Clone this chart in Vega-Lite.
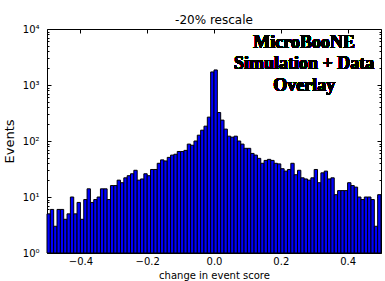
{
  "$schema": "https://vega.github.io/schema/vega-lite/v6.json",
  "autosize": {"type": "none"},
  "padding": {"left": 47, "top": 29, "right": 4, "bottom": 28},
  "width": 334,
  "height": 224,
  "title": {"text": "-20% rescale", "font": "DejaVu Sans", "fontSize": 12, "fontWeight": "normal", "color": "black", "offset": -3, "anchor": "middle"},
  "data": {"values": [
    {"lo": -0.50, "hi": -0.49, "n": 5},
    {"lo": -0.49, "hi": -0.48, "n": 6},
    {"lo": -0.48, "hi": -0.47, "n": 3},
    {"lo": -0.47, "hi": -0.46, "n": 6},
    {"lo": -0.46, "hi": -0.45, "n": 6},
    {"lo": -0.45, "hi": -0.44, "n": 4},
    {"lo": -0.44, "hi": -0.43, "n": 5},
    {"lo": -0.43, "hi": -0.42, "n": 10},
    {"lo": -0.42, "hi": -0.41, "n": 5},
    {"lo": -0.41, "hi": -0.40, "n": 8},
    {"lo": -0.40, "hi": -0.39, "n": 4},
    {"lo": -0.39, "hi": -0.38, "n": 9},
    {"lo": -0.38, "hi": -0.37, "n": 14},
    {"lo": -0.37, "hi": -0.36, "n": 8},
    {"lo": -0.36, "hi": -0.35, "n": 9},
    {"lo": -0.35, "hi": -0.34, "n": 10},
    {"lo": -0.34, "hi": -0.33, "n": 14},
    {"lo": -0.33, "hi": -0.32, "n": 14},
    {"lo": -0.32, "hi": -0.31, "n": 9},
    {"lo": -0.31, "hi": -0.30, "n": 16},
    {"lo": -0.30, "hi": -0.29, "n": 16},
    {"lo": -0.29, "hi": -0.28, "n": 20},
    {"lo": -0.28, "hi": -0.27, "n": 18},
    {"lo": -0.27, "hi": -0.26, "n": 22},
    {"lo": -0.26, "hi": -0.25, "n": 24},
    {"lo": -0.25, "hi": -0.24, "n": 26},
    {"lo": -0.24, "hi": -0.23, "n": 30},
    {"lo": -0.23, "hi": -0.22, "n": 20},
    {"lo": -0.22, "hi": -0.21, "n": 21},
    {"lo": -0.21, "hi": -0.20, "n": 26},
    {"lo": -0.20, "hi": -0.19, "n": 24},
    {"lo": -0.19, "hi": -0.18, "n": 31},
    {"lo": -0.18, "hi": -0.17, "n": 31},
    {"lo": -0.17, "hi": -0.16, "n": 40},
    {"lo": -0.16, "hi": -0.15, "n": 46},
    {"lo": -0.15, "hi": -0.14, "n": 44},
    {"lo": -0.14, "hi": -0.13, "n": 51},
    {"lo": -0.13, "hi": -0.12, "n": 56},
    {"lo": -0.12, "hi": -0.11, "n": 58},
    {"lo": -0.11, "hi": -0.10, "n": 65},
    {"lo": -0.10, "hi": -0.09, "n": 65},
    {"lo": -0.09, "hi": -0.08, "n": 68},
    {"lo": -0.08, "hi": -0.07, "n": 88},
    {"lo": -0.07, "hi": -0.06, "n": 84},
    {"lo": -0.06, "hi": -0.05, "n": 100},
    {"lo": -0.05, "hi": -0.04, "n": 127},
    {"lo": -0.04, "hi": -0.03, "n": 156},
    {"lo": -0.03, "hi": -0.02, "n": 184},
    {"lo": -0.02, "hi": -0.01, "n": 267},
    {"lo": -0.01, "hi": 0.00, "n": 1710},
    {"lo": 0.00, "hi": 0.01, "n": 1857},
    {"lo": 0.01, "hi": 0.02, "n": 323},
    {"lo": 0.02, "hi": 0.03, "n": 236},
    {"lo": 0.03, "hi": 0.04, "n": 163},
    {"lo": 0.04, "hi": 0.05, "n": 122},
    {"lo": 0.05, "hi": 0.06, "n": 117},
    {"lo": 0.06, "hi": 0.07, "n": 122},
    {"lo": 0.07, "hi": 0.08, "n": 100},
    {"lo": 0.08, "hi": 0.09, "n": 88},
    {"lo": 0.09, "hi": 0.10, "n": 74},
    {"lo": 0.10, "hi": 0.11, "n": 74},
    {"lo": 0.11, "hi": 0.12, "n": 60},
    {"lo": 0.12, "hi": 0.13, "n": 56},
    {"lo": 0.13, "hi": 0.14, "n": 49},
    {"lo": 0.14, "hi": 0.15, "n": 40},
    {"lo": 0.15, "hi": 0.16, "n": 45},
    {"lo": 0.16, "hi": 0.17, "n": 47},
    {"lo": 0.17, "hi": 0.18, "n": 45},
    {"lo": 0.18, "hi": 0.19, "n": 40},
    {"lo": 0.19, "hi": 0.20, "n": 39},
    {"lo": 0.20, "hi": 0.21, "n": 32},
    {"lo": 0.21, "hi": 0.22, "n": 29},
    {"lo": 0.22, "hi": 0.23, "n": 31},
    {"lo": 0.23, "hi": 0.24, "n": 40},
    {"lo": 0.24, "hi": 0.25, "n": 25},
    {"lo": 0.25, "hi": 0.26, "n": 30},
    {"lo": 0.26, "hi": 0.27, "n": 22},
    {"lo": 0.27, "hi": 0.28, "n": 21},
    {"lo": 0.28, "hi": 0.29, "n": 20},
    {"lo": 0.29, "hi": 0.30, "n": 22},
    {"lo": 0.30, "hi": 0.31, "n": 31},
    {"lo": 0.31, "hi": 0.32, "n": 18},
    {"lo": 0.32, "hi": 0.33, "n": 27},
    {"lo": 0.33, "hi": 0.34, "n": 29},
    {"lo": 0.34, "hi": 0.35, "n": 21},
    {"lo": 0.35, "hi": 0.36, "n": 22},
    {"lo": 0.36, "hi": 0.37, "n": 11},
    {"lo": 0.37, "hi": 0.38, "n": 13},
    {"lo": 0.38, "hi": 0.39, "n": 13},
    {"lo": 0.39, "hi": 0.40, "n": 13},
    {"lo": 0.40, "hi": 0.41, "n": 18},
    {"lo": 0.41, "hi": 0.42, "n": 16},
    {"lo": 0.42, "hi": 0.43, "n": 15},
    {"lo": 0.43, "hi": 0.44, "n": 10},
    {"lo": 0.44, "hi": 0.45, "n": 9},
    {"lo": 0.45, "hi": 0.46, "n": 10},
    {"lo": 0.46, "hi": 0.47, "n": 10},
    {"lo": 0.47, "hi": 0.48, "n": 9},
    {"lo": 0.48, "hi": 0.49, "n": 3},
    {"lo": 0.49, "hi": 0.50, "n": 11}
  ]},
  "layer": [
    {
      "mark": {"type": "bar", "fill": "#0000ff", "stroke": "black", "strokeWidth": 1},
      "encoding": {
        "x": {"field": "lo", "type": "quantitative",
          "scale": {"domain": [-0.5, 0.5], "nice": false, "zero": false},
          "axis": {"orient": "bottom", "title": "change in event score", "values": [-0.4, -0.2, 0, 0.2, 0.4],
            "labelExpr": "replace(format(datum.value, '.1f'), '-', '\u2212')",
            "tickSize": -4, "labelPadding": 7, "titlePadding": 4, "grid": false, "labelFlush": false}},
        "x2": {"field": "hi"},
        "y": {"field": "n", "type": "quantitative",
          "scale": {"type": "log", "domain": [1, 10000], "nice": false},
          "axis": {"orient": "left", "title": "Events", "titleFontSize": 13, "titlePadding": 6,
            "values": [1,2,3,4,5,6,7,8,9,10,20,30,40,50,60,70,80,90,100,200,300,400,500,600,700,800,900,1000,2000,3000,4000,5000,6000,7000,8000,9000,10000],
            "labelExpr": "datum.value == 1 ? '10\u2070' : datum.value == 10 ? '10\u00b9' : datum.value == 100 ? '10\u00b2' : datum.value == 1000 ? '10\u00b3' : datum.value == 10000 ? '10\u2074' : ''",
            "tickSize": {"condition": {"test": "indexof([1,10,100,1000,10000], datum.value) >= 0", "value": -4}, "value": -2},
            "labelPadding": 12, "grid": false, "labelFlush": false}},
        "y2": {"datum": 1}
      }
    },
    {
      "mark": {"type": "bar", "opacity": 0},
      "encoding": {
        "x": {"field": "lo", "type": "quantitative",
          "axis": {"orient": "top", "title": null, "labels": false, "values": [-0.4, -0.2, 0, 0.2, 0.4], "tickSize": -4, "grid": false}},
        "x2": {"field": "hi"},
        "y": {"field": "n", "type": "quantitative",
          "axis": {"orient": "right", "title": null, "labels": false,
            "values": [1,2,3,4,5,6,7,8,9,10,20,30,40,50,60,70,80,90,100,200,300,400,500,600,700,800,900,1000,2000,3000,4000,5000,6000,7000,8000,9000,10000],
            "tickSize": {"condition": {"test": "indexof([1,10,100,1000,10000], datum.value) >= 0", "value": -4}, "value": -2},
            "grid": false}},
        "y2": {"datum": 1}
      }
    },
    {
      "mark": {"type": "text", "text": ["MicroBooNE", "Simulation + Data", "Overlay"], "font": "Liberation Serif", "fontWeight": "bold", "fontSize": 18, "lineHeight": 21.5, "align": "center", "baseline": "alphabetic", "color": "black"},
      "encoding": {
        "x": {"datum": 0.27, "type": "quantitative", "axis": null},
        "y": {"datum": 4600, "type": "quantitative", "axis": null}
      }
    }
  ],
  "resolve": {"axis": {"x": "independent", "y": "independent"}},
  "config": {
    "view": {"stroke": null},
    "axis": {"labelFont": "DejaVu Sans", "labelFontSize": 10, "labelColor": "black", "titleFont": "DejaVu Sans", "titleFontSize": 10, "titleFontWeight": "normal", "titleColor": "black", "domainColor": "black", "domainWidth": 1, "tickColor": "black", "tickWidth": 1}
  }
}
